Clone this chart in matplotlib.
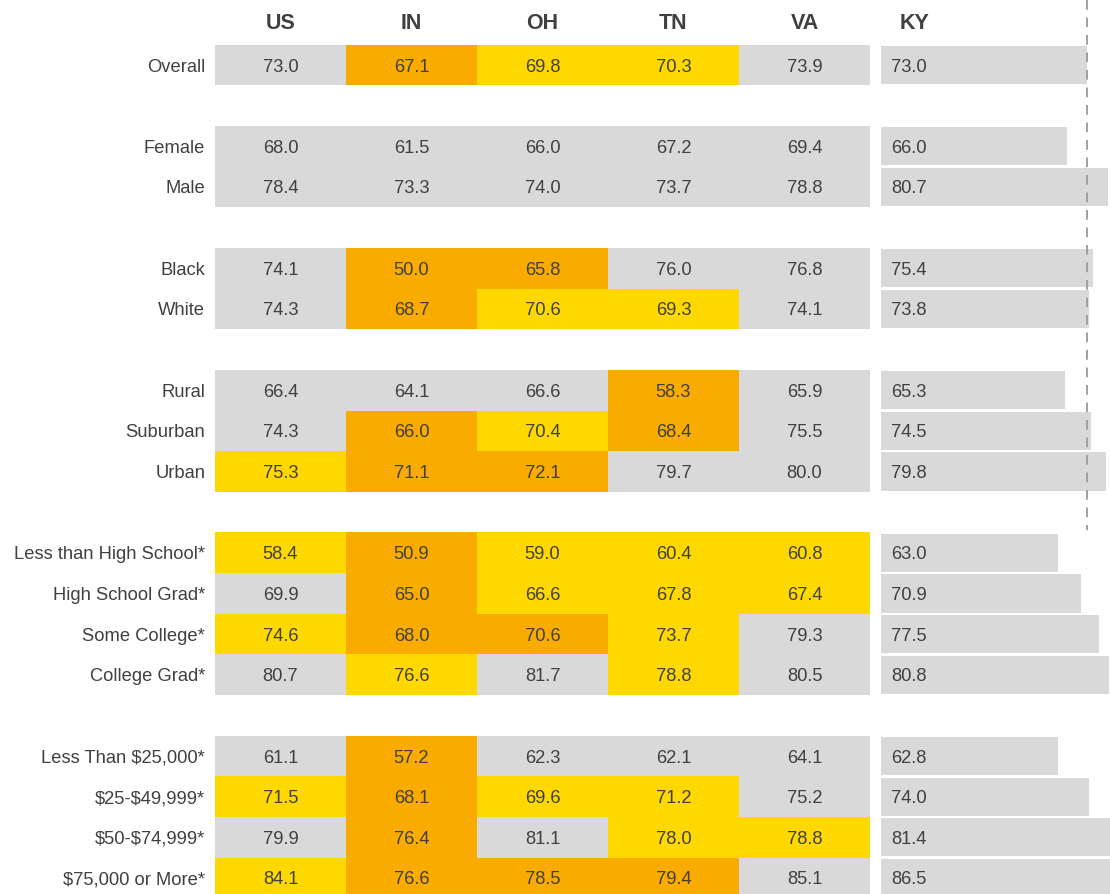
import matplotlib.pyplot as plt
import numpy as np

plt.rcParams['font.family'] = ['Liberation Sans', 'DejaVu Sans']
plt.rcParams['text.parse_math'] = False

states = ['US', 'IN', 'OH', 'TN', 'VA']
rows = ['Overall', None,
        'Female', 'Male', None,
        'Black', 'White', None,
        'Rural', 'Suburban', 'Urban', None,
        'Less than High School*', 'High School Grad*', 'Some College*', 'College Grad*', None,
        'Less Than $25,000*', '$25-$49,999*', '$50-$74,999*', '$75,000 or More*']

# values per row (US, IN, OH, TN, VA)
values = [
    [73.0, 67.1, 69.8, 70.3, 73.9],
    None,
    [68.0, 61.5, 66.0, 67.2, 69.4],
    [78.4, 73.3, 74.0, 73.7, 78.8],
    None,
    [74.1, 50.0, 65.8, 76.0, 76.8],
    [74.3, 68.7, 70.6, 69.3, 74.1],
    None,
    [66.4, 64.1, 66.6, 58.3, 65.9],
    [74.3, 66.0, 70.4, 68.4, 75.5],
    [75.3, 71.1, 72.1, 79.7, 80.0],
    None,
    [58.4, 50.9, 59.0, 60.4, 60.8],
    [69.9, 65.0, 66.6, 67.8, 67.4],
    [74.6, 68.0, 70.6, 73.7, 79.3],
    [80.7, 76.6, 81.7, 78.8, 80.5],
    None,
    [61.1, 57.2, 62.3, 62.1, 64.1],
    [71.5, 68.1, 69.6, 71.2, 75.2],
    [79.9, 76.4, 81.1, 78.0, 78.8],
    [84.1, 76.6, 78.5, 79.4, 85.1],
]

# 0 = not different, 1 = somewhat lower, 2 = lower
levels = [
    [0, 2, 1, 1, 0],
    None,
    [0, 0, 0, 0, 0],
    [0, 0, 0, 0, 0],
    None,
    [0, 2, 2, 0, 0],
    [0, 2, 1, 1, 0],
    None,
    [0, 0, 0, 2, 0],
    [0, 2, 1, 2, 0],
    [1, 2, 2, 0, 0],
    None,
    [1, 2, 1, 1, 1],
    [0, 2, 1, 1, 1],
    [1, 2, 2, 1, 0],
    [0, 1, 0, 1, 0],
    None,
    [0, 2, 0, 0, 0],
    [1, 2, 1, 1, 0],
    [0, 2, 0, 1, 1],
    [1, 2, 2, 2, 0],
]

ky = [73.0, None, 66.0, 80.7, None, 75.4, 73.8, None, 65.3, 74.5, 79.8, None,
      63.0, 70.9, 77.5, 80.8, None, 62.8, 74.0, 81.4, 86.5]

palette = {0: '#D9D9D9', 1: '#FFD800', 2: '#FAAB00'}
txt = '#404040'
fs = 13.2

W, H = 1110, 894
fig = plt.figure(figsize=(W / 100, H / 100), dpi=100)

row0, step = 65.0, 40.65
ytop = -row0 / step
ybot = (H - row0) / step

ax = fig.add_axes([215 / W, 0, 655 / W, 1])
ax.set_xlim(-0.5, len(states) - 0.5)
ax.set_ylim(ybot, ytop)
ax.axis('off')

for i, (lab, vals, lv) in enumerate(zip(rows, values, levels)):
    if lab is None:
        continue
    for j, (v, c) in enumerate(zip(vals, lv)):
        ax.add_patch(plt.Rectangle((j - 0.5, i - 0.5), 1, 1, color=palette[c], lw=0))
        ax.text(j, i, f'{v:.1f}', ha='center', va='center_baseline', fontsize=fs, color=txt)
    ax.text(-0.575, i, lab, ha='right', va='center_baseline', fontsize=fs, color=txt)

hdr_y = (21 - row0) / step
for j, s in enumerate(states):
    ax.text(j, hdr_y, s, ha='center', va='center_baseline', fontsize=15.5,
            fontweight='bold', color=txt)

# KY bars
ax2 = fig.add_axes([881 / W, 0, (W - 881) / W, 1])
ax2.set_xlim(0, 81.3)
ax2.set_ylim(ybot, ytop)
ax2.axis('off')
ky_idx = [i for i, v in enumerate(ky) if v is not None]
ky_val = [ky[i] for i in ky_idx]
ax2.barh(ky_idx, ky_val, height=0.94, color='#D9D9D9', left=0)
for i, v in zip(ky_idx, ky_val):
    ax2.text(3.6, i, f'{v:.1f}', ha='left', va='center_baseline', fontsize=fs, color=txt)
ax2.text(12, hdr_y, 'KY', ha='center', va='center_baseline', fontsize=15.5,
         fontweight='bold', color=txt)
ax2.plot([ky[0], ky[0]], [ytop, 11.45], color='#A0A0A0', lw=1.4, ls=(0, (5, 4)), clip_on=False)

fig.savefig('out.png', dpi=100)
